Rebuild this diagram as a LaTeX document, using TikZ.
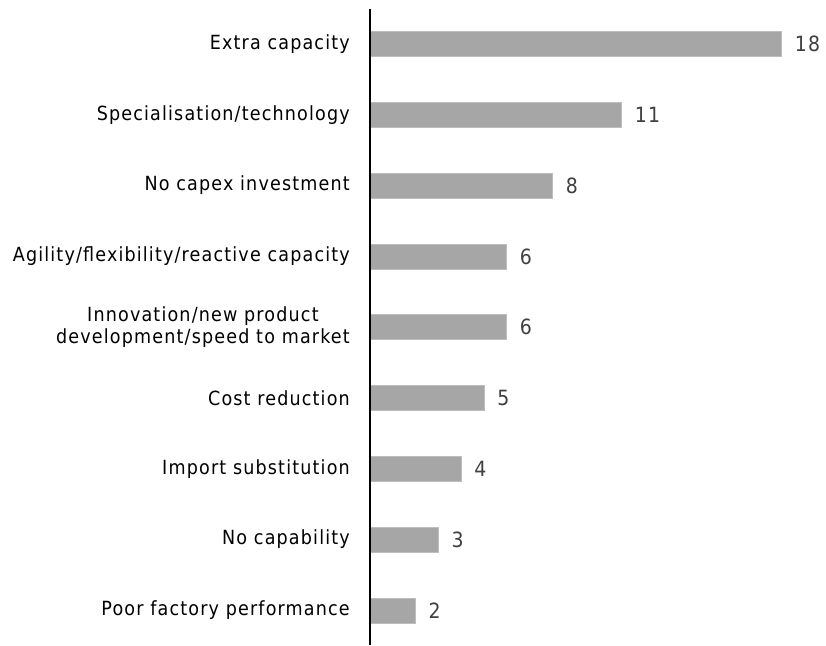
\documentclass[tikz,border=0pt]{standalone}
\usepackage{fontspec}
\setmainfont{DejaVu Sans Condensed}[LetterSpace=6]
\usetikzlibrary{positioning}
\definecolor{barfill}{HTML}{A6A6A6}
\definecolor{barline}{HTML}{BDBDBD}
\definecolor{valgray}{HTML}{404040}
\tikzset{
	bar/.style={draw=barline, line width=0.6pt, fill=barfill, anchor=west, inner sep=0pt, minimum height=25pt},
	catlabel/.style={anchor=east, align=center, font=\fontsize{19.5}{22.5}\selectfont, text=black, inner sep=0pt},
	vallabel/.style={anchor=west, font=\fontsize{21}{24}\selectfont, text=valgray, inner sep=0pt}
}
\begin{document}
\begin{tikzpicture}[x=1pt, y=-1pt]
			%%%%% START %%%%%
			
			\useasboundingbox (0, 0) rectangle (826, 645);
			
			\node[bar, minimum width=412pt] (extra) at (369, 44) {};
			\node[bar, minimum width=252pt] (special) at (369, 114.8) {};
			\node[bar, minimum width=183pt] (capex) at (369, 185.6) {};
			\node[bar, minimum width=137pt] (agility) at (369, 256.4) {};
			\node[bar, minimum width=137pt] (innov) at (369, 327.2) {};
			\node[bar, minimum width=114.5pt] (cost) at (369, 398) {};
			\node[bar, minimum width=91.6pt] (import) at (369, 468.8) {};
			\node[bar, minimum width=68.7pt] (nocap) at (369, 539.6) {};
			\node[bar, minimum width=45.8pt] (poor) at (369, 610.4) {};
			
			\node[catlabel, left=19pt of extra] (extra-l) {Extra capacity};
			\node[catlabel, left=19pt of special] (special-l) {Specialisation/technology};
			\node[catlabel, left=19pt of capex] (capex-l) {No capex investment};
			\node[catlabel, left=19pt of agility] (agility-l) {Agility/flexibility/reactive capacity};
			\node[catlabel, left=19pt of innov] (innov-l) {Innovation/new product\\development/speed to market};
			\node[catlabel, left=19pt of cost] (cost-l) {Cost reduction};
			\node[catlabel, left=19pt of import] (import-l) {Import substitution};
			\node[catlabel, left=19pt of nocap] (nocap-l) {No capability};
			\node[catlabel, left=19pt of poor] (poor-l) {Poor factory performance};
			
			\node[vallabel, right=13pt of extra] (extra-v) {18};
			\node[vallabel, right=13pt of special] (special-v) {11};
			\node[vallabel, right=13pt of capex] (capex-v) {8};
			\node[vallabel, right=13pt of agility] (agility-v) {6};
			\node[vallabel, right=13pt of innov] (innov-v) {6};
			\node[vallabel, right=13pt of cost] (cost-v) {5};
			\node[vallabel, right=13pt of import] (import-v) {4};
			\node[vallabel, right=13pt of nocap] (nocap-v) {3};
			\node[vallabel, right=13pt of poor] (poor-v) {2};
			
			\coordinate (axis-top) at (370, 9);
			\coordinate (axis-bot) at (370, 645);
			\draw[line width=1.5pt, black] (axis-top) -- (axis-bot);
			
			%%%%% END %%%%%
\end{tikzpicture}
\end{document}
